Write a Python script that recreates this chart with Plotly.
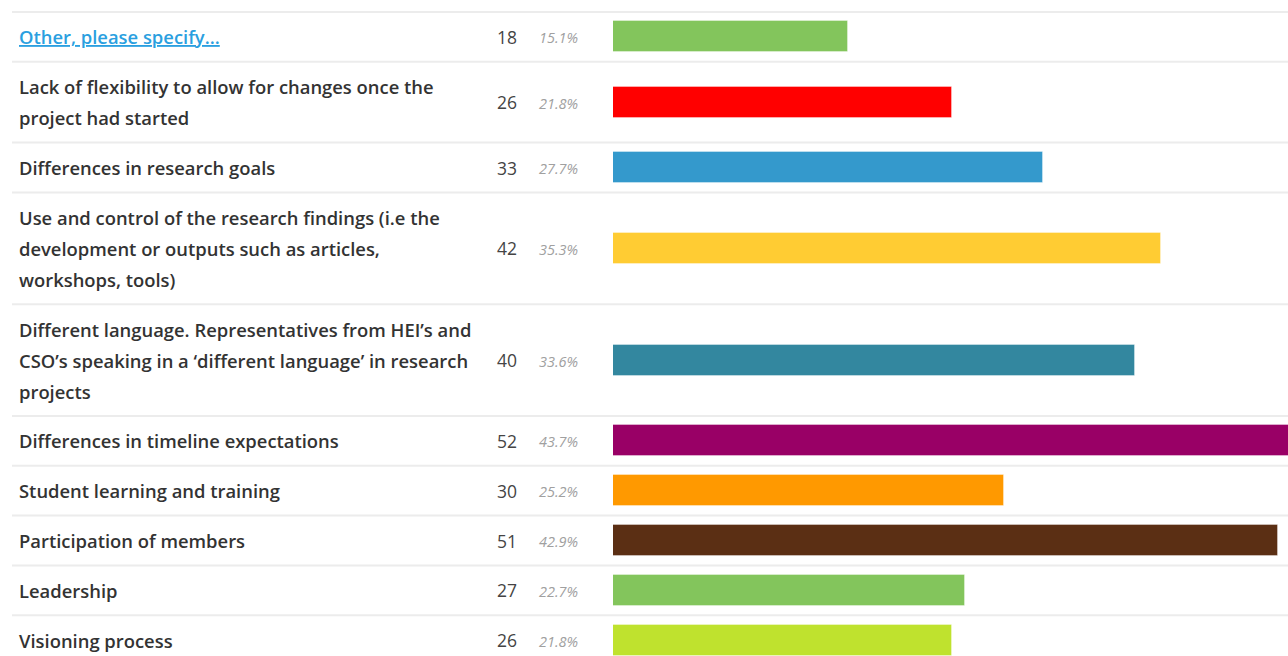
import plotly.graph_objects as go

# ---- data ----
labels = [
    "Other, please specify...",
    "Lack of flexibility to allow for changes once the|project had started",
    "Differences in research goals",
    "Use and control of the research findings (i.e the|development or outputs such as articles,|workshops, tools)",
    "Different language. Representatives from HEI’s and|CSO’s speaking in a ‘different language’ in research|projects",
    "Differences in timeline expectations",
    "Student learning and training",
    "Participation of members",
    "Leadership",
    "Visioning process",
]
counts = [18, 26, 33, 42, 40, 52, 30, 51, 27, 26]
respondents = 119
colors = ["#83c55c", "#ff0000", "#3499cc", "#ffcc33", "#33879f",
          "#990066", "#ff9900", "#5b2f14", "#83c55c", "#bfe22e"]
link_rows = [0]

# ---- layout (pixel-based) ----
W, H = 1288, 656
TOP = 12
LINE_H = 31
ROW_PAD = 18.8
BAR_X0 = 613
LABEL_X = 17
COUNT_X = 519
PCT_X = 537
PX_PER_UNIT = 13.04

lines = [l.split("|") for l in labels]
row_heights = [ROW_PAD + LINE_H * len(ls) for ls in lines]
bounds = [TOP]
for h in row_heights:
    bounds.append(bounds[-1] + h)
centers = [(bounds[i] + bounds[i + 1]) / 2 for i in range(len(labels))]

fig = go.Figure()
fig.add_trace(go.Bar(
    x=counts, y=centers, orientation="h", width=31,
    marker=dict(color=colors, line=dict(width=1, color="rgba(255,255,255,0.35)")),
    hoverinfo="skip",
))

annotations = []
label_font = dict(family="Open Sans", size=18.4, color="#333333", weight=600)
for i, ls in enumerate(lines):
    n = len(ls)
    for j, t in enumerate(ls):
        yy = centers[i] + (j - (n - 1) / 2) * LINE_H
        f = dict(label_font)
        txt = t
        if i in link_rows:
            f["color"] = "#2a9fe0"
            txt = "<u>" + t + "</u>"
        annotations.append(dict(
            x=LABEL_X / W, xref="paper", y=yy, yref="y",
            text=txt, showarrow=False, xanchor="left", yanchor="middle",
            font=f,
        ))
    annotations.append(dict(
        x=COUNT_X / W, xref="paper", y=centers[i], yref="y",
        text=str(counts[i]), showarrow=False, xanchor="right", yanchor="middle",
        font=dict(family="Open Sans", size=17.5, color="#444444"),
    ))
    pct = counts[i] / respondents * 100
    annotations.append(dict(
        x=PCT_X / W, xref="paper", y=centers[i] + 1, yref="y",
        text="<i>%.1f%%</i>" % pct, showarrow=False, xanchor="left", yanchor="middle",
        font=dict(family="Open Sans", size=14.5, color="#a0a0a0"),
    ))

shapes = []
for b in bounds:
    shapes.append(dict(
        type="line", xref="paper", yref="y", x0=12 / W, x1=1, y0=b, y1=b,
        line=dict(color="#ececec", width=2), layer="below",
    ))

fig.update_layout(
    width=W, height=H,
    margin=dict(l=0, r=0, t=0, b=0),
    paper_bgcolor="white", plot_bgcolor="white",
    showlegend=False,
    bargap=0,
    xaxis=dict(domain=[BAR_X0 / W, 1], range=[0, (W - BAR_X0) / PX_PER_UNIT],
               visible=False, fixedrange=True),
    yaxis=dict(range=[H, 0], visible=False, fixedrange=True),
    annotations=annotations,
    shapes=shapes,
)

fig.write_html("out.html", config={"displayModeBar": False},
               post_script="document.body.style.margin='0';document.body.style.overflow='hidden';")
